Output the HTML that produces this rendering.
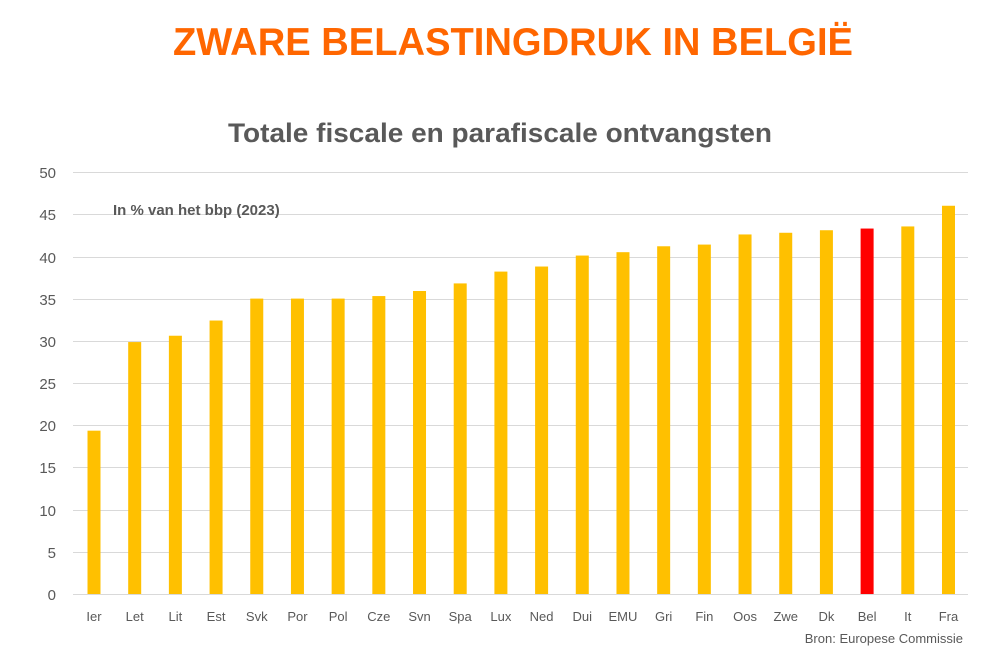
<!DOCTYPE html>
<html><head><meta charset="utf-8"><style>body{margin:0;background:#fff}svg{display:block}</style></head>
<body>
<svg width="1002" height="657" xmlns="http://www.w3.org/2000/svg" font-family="'Liberation Sans', sans-serif">
<rect width="1002" height="657" fill="#fff"/>
<text x="173" y="55" font-size="39" font-weight="bold" fill="#FF6600" textLength="680" lengthAdjust="spacingAndGlyphs">ZWARE BELASTINGDRUK IN BELGIË</text>
<text x="228" y="142" font-size="27" font-weight="bold" fill="#595959" textLength="544" lengthAdjust="spacingAndGlyphs">Totale fiscale en parafiscale ontvangsten</text>
<g stroke="#d9d9d9" stroke-width="1">
<line x1="73" x2="968" y1="172.5" y2="172.5"/><line x1="73" x2="968" y1="214.5" y2="214.5"/>
<line x1="73" x2="968" y1="257.5" y2="257.5"/><line x1="73" x2="968" y1="299.5" y2="299.5"/>
<line x1="73" x2="968" y1="341.5" y2="341.5"/><line x1="73" x2="968" y1="383.5" y2="383.5"/>
<line x1="73" x2="968" y1="425.5" y2="425.5"/><line x1="73" x2="968" y1="467.5" y2="467.5"/>
<line x1="73" x2="968" y1="510.5" y2="510.5"/><line x1="73" x2="968" y1="552.5" y2="552.5"/>
<line x1="73" x2="968" y1="594.5" y2="594.5"/>
</g>
<g font-size="15" fill="#595959" text-anchor="end">
<text x="56" y="178">50</text><text x="56" y="220">45</text><text x="56" y="263">40</text>
<text x="56" y="305">35</text><text x="56" y="347">30</text><text x="56" y="389">25</text>
<text x="56" y="431">20</text><text x="56" y="473">15</text><text x="56" y="516">10</text>
<text x="56" y="558">5</text><text x="56" y="600">0</text>
</g>
<text x="113" y="215" font-size="15" font-weight="bold" fill="#595959">In % van het bbp (2023)</text>
<g id="bars"></g>
<g id="labels" font-size="13" fill="#595959" text-anchor="middle"></g>
<text x="963" y="643" font-size="13" fill="#595959" text-anchor="end">Bron: Europese Commissie</text>
<script>
var d=[["Ier",19.35],["Let",29.85],["Lit",30.6],["Est",32.4],["Svk",35.0],["Por",35.0],["Pol",35.0],["Cze",35.3],["Svn",35.9],["Spa",36.8],["Lux",38.2],["Ned",38.8],["Dui",40.1],["EMU",40.5],["Gri",41.2],["Fin",41.4],["Oos",42.6],["Zwe",42.8],["Dk",43.1],["Bel",43.3],["It",43.55],["Fra",46.0]];
var ns="http://www.w3.org/2000/svg",b=document.getElementById("bars"),l=document.getElementById("labels");
d.forEach(function(e,i){var cx=94+i*40.69,h=e[1]*8.44;
var r=document.createElementNS(ns,"rect");r.setAttribute("x",cx-6.5);r.setAttribute("y",594-h);r.setAttribute("width",13);r.setAttribute("height",h);r.setAttribute("fill",e[0]=="Bel"?"#FF0000":"#FFC000");b.appendChild(r);
var t=document.createElementNS(ns,"text");t.setAttribute("x",cx);t.setAttribute("y",621);t.textContent=e[0];l.appendChild(t);});
</script>
</svg>
</body></html>
